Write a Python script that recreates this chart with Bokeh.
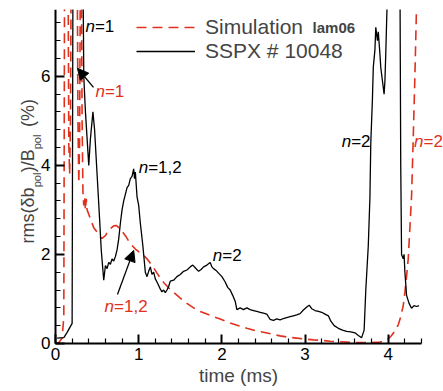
from bokeh.plotting import figure
from bokeh.models import Legend, LegendItem, Label, Arrow, NormalHead, FixedTicker, Range1d
from bokeh.embed import file_html
from bokeh.resources import INLINE
import math

RED = "#e0301e"
FONT = "Liberation Sans"

# Simulation lam06 (red dashed)
sim_t = [0.0, 0.04, 0.08, 0.10, 0.11, 0.15, 0.16, 0.17, 0.18, 0.19, 0.26, 0.27, 0.28, 0.29, 0.30, 0.31,
         0.32, 0.33, 0.34, 0.35, 0.36, 0.37, 0.38, 0.40, 0.43, 0.46, 0.50, 0.53, 0.56, 0.60, 0.63, 0.66,
         0.70, 0.73, 0.76, 0.80, 0.84, 0.88, 0.92, 0.96, 1.00, 1.03, 1.06, 1.10, 1.14, 1.18, 1.22, 1.26,
         1.30, 1.36, 1.42, 1.50, 1.58, 1.66, 1.74, 1.82, 1.90, 1.98, 2.10, 2.20, 2.30, 2.40, 2.50, 2.60,
         2.70, 2.80, 2.90, 3.00, 3.10, 3.20, 3.30, 3.40, 3.50, 3.60, 3.70, 3.80, 3.90, 3.96, 4.00, 4.04,
         4.08, 4.12, 4.15, 4.18, 4.20, 4.22, 4.24, 4.26, 4.28, 4.30, 4.32, 4.34, 4.35]
sim_v = [0.0, 0.02, 0.12, 0.6, 9.0, 9.0, 4.5, 3.8, 5.0, 9.0, 9.0, 5.0, 3.6, 4.5, 9.0, 9.0,
         5.0, 3.4, 3.1, 3.3, 3.0, 3.25, 3.0, 2.9, 2.75, 2.6, 2.5, 2.4, 2.36, 2.42, 2.52, 2.58,
         2.64, 2.65, 2.6, 2.52, 2.42, 2.3, 2.2, 2.12, 2.06, 2.02, 1.98, 1.9, 1.8, 1.7, 1.58, 1.47,
         1.37, 1.25, 1.15, 1.02, 0.9, 0.8, 0.72, 0.66, 0.6, 0.55, 0.46, 0.4, 0.34, 0.29, 0.25, 0.21,
         0.17, 0.14, 0.12, 0.10, 0.08, 0.07, 0.05, 0.04, 0.03, 0.02, 0.02, 0.02, 0.03, 0.06, 0.10, 0.18,
         0.28, 0.42, 0.6, 0.85, 1.15, 1.5, 1.9, 2.6, 3.3, 4.6, 6.0, 7.6, 9.0]

# SSPX # 10048 (black solid)
obs_t = [0.02, 0.10, 0.14, 0.20, 0.21, 0.33, 0.34, 0.36, 0.38, 0.40, 0.42, 0.44, 0.45, 0.47, 0.50, 0.53,
         0.55, 0.58, 0.60, 0.62, 0.64, 0.66, 0.68, 0.70, 0.72, 0.74, 0.76, 0.78, 0.80, 0.82, 0.84, 0.86,
         0.88, 0.90, 0.92, 0.94, 0.95, 0.96, 0.98, 1.00, 1.02, 1.05, 1.08, 1.10, 1.12, 1.14, 1.16, 1.18,
         1.20, 1.22, 1.24, 1.26, 1.28, 1.30, 1.32, 1.34, 1.36, 1.38, 1.42, 1.46, 1.50, 1.54, 1.58, 1.62,
         1.65, 1.68, 1.72, 1.75, 1.78, 1.82, 1.86, 1.88, 1.90, 1.93, 1.96, 2.00, 2.04, 2.07, 2.10, 2.13,
         2.16, 2.18, 2.22, 2.26, 2.30, 2.34, 2.38, 2.42, 2.46, 2.50, 2.54, 2.56, 2.58, 2.62, 2.66, 2.70,
         2.74, 2.78, 2.82, 2.86, 2.90, 2.94, 2.98, 3.02, 3.05, 3.08, 3.12, 3.16, 3.20, 3.24, 3.28, 3.31,
         3.35, 3.40, 3.45, 3.50, 3.55, 3.60, 3.64, 3.68, 3.71, 3.73, 3.76, 3.78, 3.79, 3.81, 3.82, 3.84,
         3.85, 3.87, 3.88, 3.90, 3.91, 3.93, 3.95, 3.96, 3.97, 3.98, 4.00, 4.14, 4.15, 4.16, 4.18, 4.19,
         4.20, 4.22, 4.25, 4.28, 4.31, 4.34, 4.37]
obs_v = [0.12, 0.13, 0.25, 0.45, 8.5, 8.5, 6.0, 5.2, 4.6, 4.0, 4.6, 5.0, 5.2, 4.8, 3.8, 2.8,
         2.1, 1.42, 1.75, 1.68, 1.82, 1.78, 1.90, 1.85, 1.95, 2.1, 2.35, 2.7, 3.0, 3.2, 3.35, 3.5,
         3.55, 3.7, 3.75, 3.92, 3.7, 3.85, 3.3, 3.1, 2.7, 2.2, 1.6, 1.5, 1.62, 1.72, 1.55, 1.6,
         1.45, 1.38, 1.3, 1.22, 1.16, 1.2, 1.14, 1.2, 1.28, 1.4, 1.42, 1.5, 1.55, 1.62, 1.65, 1.72,
         1.76, 1.7, 1.62, 1.66, 1.72, 1.76, 1.82, 1.72, 1.68, 1.64, 1.58, 1.5, 1.38, 1.26, 1.2, 1.08,
         0.95, 0.76, 0.8, 0.76, 0.8, 0.76, 0.74, 0.72, 0.7, 0.68, 0.66, 0.6, 0.54, 0.52, 0.55, 0.53,
         0.56, 0.58, 0.6, 0.62, 0.64, 0.67, 0.75, 0.82, 0.86, 0.78, 0.74, 0.72, 0.7, 0.66, 0.62, 0.5,
         0.4, 0.34, 0.3, 0.27, 0.26, 0.24, 0.18, 0.13, 0.3, 1.2, 2.2, 3.3, 4.5, 5.5, 6.2, 6.6,
         7.1, 6.8, 7.0, 6.5, 6.2, 5.9, 5.6, 5.9, 6.5, 7.2, 8.5, 8.5, 4.0, 2.0, 1.9, 2.0,
         1.6, 1.08, 0.9, 0.79, 0.85, 0.83, 0.85]

x_ticks = [0, 1, 2, 3, 4]
x_minor = [0.2, 0.4, 0.6, 0.8, 1.2, 1.4, 1.6, 1.8, 2.2, 2.4, 2.6, 2.8, 3.2, 3.4, 3.6, 3.8, 4.2, 4.4]
y_ticks = [0, 2, 4, 6]
y_minor = [0.4, 0.8, 1.2, 1.6, 2.4, 2.8, 3.2, 3.6, 4.4, 4.8, 5.2, 5.6, 6.4, 6.8, 7.2]
x_axis_end = 4.4
y_axis_end = 7.5

# frame spans the whole canvas below the top margin; axes are pinned at 0
p = figure(width=443, height=391, x_range=Range1d(-0.661, 4.664), y_range=Range1d(-1.079, 7.5),
           output_backend="svg", toolbar_location=None, tools="",
           min_border_left=0, min_border_right=0, min_border_top=9, min_border_bottom=0)
p.outline_line_color = None
p.xgrid.visible = False
p.ygrid.visible = False
p.background_fill_color = "white"

p.xaxis.ticker = FixedTicker(ticks=x_ticks, minor_ticks=x_minor)
p.yaxis.ticker = FixedTicker(ticks=y_ticks, minor_ticks=y_minor)
p.xaxis.fixed_location = 0
p.yaxis.fixed_location = 0
p.xaxis.bounds = (0, x_axis_end)
p.yaxis.bounds = (0, y_axis_end)
for ax in (p.xaxis, p.yaxis):
    ax.major_tick_in = 9
    ax.major_tick_out = 0
    ax.minor_tick_in = 5
    ax.minor_tick_out = 0
    ax.axis_line_width = 2
    ax.major_tick_line_width = 2
    ax.minor_tick_line_width = 1.2
    ax.major_label_text_font = FONT
    ax.major_label_text_font_size = "17px"
    ax.major_label_text_color = "black"
p.xaxis.major_label_standoff = 5
p.yaxis.major_label_standoff = 5
p.xaxis.axis_label = "time (ms)"
p.xaxis.axis_label_text_font = FONT
p.xaxis.axis_label_text_font_size = "19px"
p.xaxis.axis_label_text_font_style = "normal"
p.xaxis.axis_label_standoff = 1

r_sim = p.line(sim_t, sim_v, color=RED, line_width=1.6, line_dash="10 6")
r_obs = p.line(obs_t, obs_v, color="black", line_width=1.3)

legend = Legend(items=[LegendItem(label="Simulation", renderers=[r_sim]),
                       LegendItem(label="SSPX # 10048", renderers=[r_obs])],
                location=(136, 328), padding=0, margin=0, spacing=0,
                glyph_width=59, glyph_height=24, label_height=24, label_standoff=10,
                label_text_font=FONT, label_text_font_size="21px",
                border_line_color=None, background_fill_alpha=0)
p.add_layout(legend)
p.add_layout(Label(x=3.09, y=7.10, text="lam06", text_font=FONT, text_font_size="15px",
                   text_font_style="bold", text_baseline="middle", text_align="left"))

def nlabel(x, y, rest, color):
    p.add_layout(Label(x=x, y=y, text="n", text_font=FONT, text_font_size="17px",
                       text_font_style="italic", text_color=color,
                       text_baseline="middle", text_align="left"))
    p.add_layout(Label(x=x, y=y, x_offset=9.5, text=rest, text_font=FONT, text_font_size="17px",
                       text_color=color, text_baseline="middle", text_align="left"))

nlabel(0.36, 7.12, "=1", "black")
nlabel(0.48, 5.66, "=1", RED)
nlabel(1.00, 3.96, "=1,2", "black")
nlabel(0.59, 0.83, "=1,2", RED)
nlabel(1.89, 1.98, "=2", "black")
nlabel(3.44, 4.54, "=2", "black")
nlabel(4.31, 4.54, "=2", RED)

p.add_layout(Arrow(end=NormalHead(size=11, fill_color="black", line_color="black"),
                   x_start=0.457, y_start=5.75, x_end=0.264, y_end=6.18, line_width=1.3))
p.add_layout(Arrow(end=NormalHead(size=11, fill_color="black", line_color="black"),
                   x_start=0.745, y_start=1.10, x_end=0.94, y_end=2.09, line_width=1.3))

# rotated y-axis label pieces (with subscripts)
ang = math.pi / 2
def ylab(x, y, text, size):
    p.add_layout(Label(x=x, y=y, text=text, angle=ang, text_font=FONT, text_font_size=size,
                       text_baseline="middle", text_align="left"))

ylab(-0.331, 2.247, "rms(δb", "18px")
ylab(-0.228, 3.506, "pol", "11px")
ylab(-0.331, 3.843, ")/B", "18px")
ylab(-0.228, 4.36, "pol", "11px")
ylab(-0.331, 4.86, "(%)", "18px")

open("out.html", "w").write(file_html(p, INLINE))
